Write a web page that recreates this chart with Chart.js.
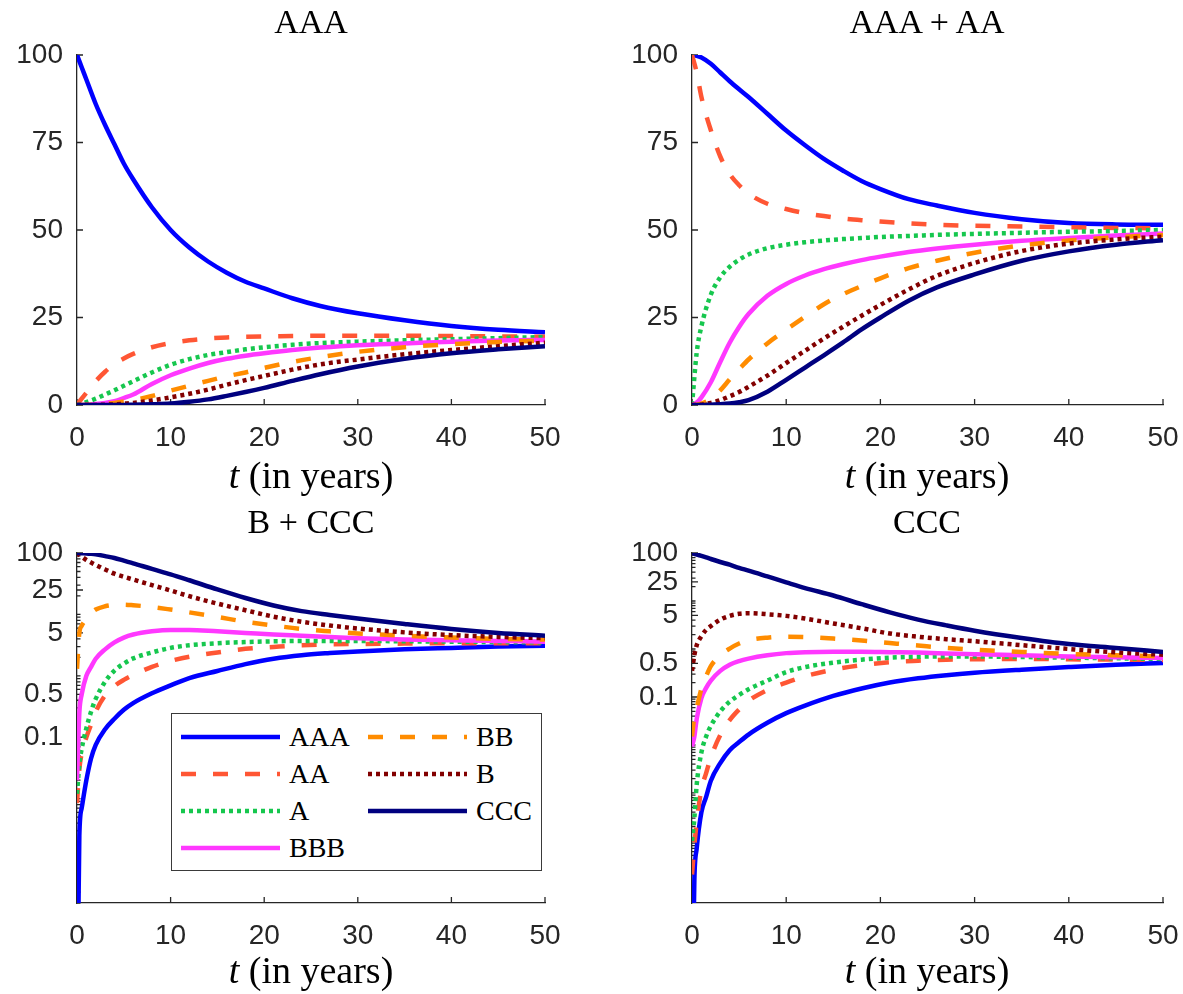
<!DOCTYPE html>
<html>
<head>
<meta charset="utf-8">
<script src="https://cdn.jsdelivr.net/npm/chart.js@4.4.1/dist/chart.umd.min.js"></script>
<style>
  html, body { margin: 0; padding: 0; background: #fff; }
  #fig { position: relative; width: 1183px; height: 994px; background: #fff; overflow: hidden; }
  #fig canvas { position: absolute; }
  .ttl, .xlab { position: absolute; width: 400px; text-align: center; font-family: "Liberation Serif", serif; color: #000; white-space: nowrap; }
  .ttl { font-size: 34px; line-height: 34px; }
  .xlab { font-size: 38px; line-height: 38px; }
  #legend { position: absolute; left: 171px; top: 713px; width: 369px; height: 156px; border: 1.5px solid #3a3a3a; background: #fff; }
  .item { position: absolute; height: 28px; display: flex; align-items: center; font-family: "Liberation Serif", serif; font-size: 28px; line-height: 28px; color: #000; }
  .item svg { margin-right: 9px; }
</style>
</head>
<body>
<div id="fig">
  <canvas id="c0" width="590" height="460" style="left:0;top:0"></canvas>
  <canvas id="c1" width="583" height="460" style="left:600px;top:0"></canvas>
  <canvas id="c2" width="590" height="460" style="left:0;top:500px"></canvas>
  <canvas id="c3" width="583" height="460" style="left:600px;top:500px"></canvas>
  <div id="legend"></div>
</div>
<script>
// sample times (years)
const tLin = [0, 0.5, 1, 2, 3, 4, 5, 6, 8, 10, 12, 14, 16, 18, 20, 23, 26, 30, 35, 40, 45, 50];
const tLog = [0, 0.25, 0.5, 1, 1.5, 2, 3, 4, 5, 6, 8, 10, 12, 15, 18, 21, 24, 27, 30, 35, 40, 45, 50];

const ratings = ['AAA', 'AA', 'A', 'BBB', 'BB', 'B', 'CCC'];
const panelTitles = ['AAA', 'AAA + AA', 'B + CCC', 'CCC'];
const xTicks = [0, 10, 20, 30, 40, 50];
const linTicks = [0, 25, 50, 75, 100];
const logTicks = [0.1, 0.5, 5, 25, 100];

// panel 1: start in AAA (rows follow ratings order)
const fromAAA = [
  [100, 96.5, 93, 86, 80, 74.5, 69, 64.5, 56.5, 50, 45, 41, 37.8, 35.2, 33.3, 30.5, 28.3, 26.2, 24.2, 22.6, 21.5, 20.8],
  [0, 1.8, 3.5, 6.8, 9.5, 11.7, 13.3, 14.6, 16.5, 17.7, 18.5, 19, 19.3, 19.5, 19.6, 19.7, 19.8, 19.8, 19.8, 19.7, 19.6, 19.5],
  [0, 0.4, 0.8, 1.8, 3, 4.2, 5.5, 6.8, 9.3, 11.5, 13.1, 14.3, 15.1, 15.9, 16.5, 17.2, 17.7, 18.1, 18.5, 18.8, 19.1, 19.4],
  [0, 0, 0.1, 0.3, 0.6, 1.1, 2, 3, 6, 8.5, 10.4, 12, 13.2, 14.1, 14.8, 15.7, 16.4, 17.1, 17.6, 18.1, 18.4, 18.6],
  [0, 0, 0, 0.1, 0.3, 0.6, 1, 1.4, 2.6, 4.1, 5.5, 6.9, 8.2, 9.3, 10.6, 12.3, 13.7, 15.2, 16.5, 17.4, 18, 18.4],
  [0, 0, 0, 0, 0.1, 0.2, 0.4, 0.6, 1.3, 2.2, 3.2, 4.4, 5.8, 7.1, 8.3, 10.1, 11.6, 13, 14.5, 15.7, 16.8, 17.8],
  [0, 0, 0, 0, 0, 0, 0, 0.1, 0.2, 0.4, 0.9, 1.6, 2.6, 3.7, 4.9, 6.9, 8.8, 11, 13.2, 14.8, 15.9, 16.8]
];

// panel 2: start in AAA + AA
const fromAAAandAA = [
  [100, 99.8, 99.3, 97.5, 95, 92.5, 90.2, 88, 83.2, 78.4, 74.2, 70.3, 67, 64, 61.7, 58.8, 57, 54.9, 53.1, 52, 51.6, 51.5],
  [100, 95, 88, 78.5, 71, 66, 62.8, 60.4, 57.5, 56, 54.8, 54, 53.3, 52.8, 52.4, 51.9, 51.5, 51.2, 51, 50.8, 50.6, 50.5],
  [0, 15, 22.5, 31.5, 36.5, 39.5, 41.5, 43, 44.8, 45.8, 46.5, 47, 47.4, 47.7, 48, 48.3, 48.6, 48.9, 49.2, 49.5, 49.7, 50],
  [0, 0.7, 2.2, 6.5, 12.3, 17.8, 22.3, 26, 31.2, 34.6, 37, 38.8, 40.2, 41.4, 42.4, 43.7, 44.7, 45.8, 46.9, 47.7, 48.4, 49],
  [0, 0.1, 0.4, 1.8, 4.2, 7.3, 10.2, 13, 17.6, 21.5, 25.2, 28.8, 31.6, 34, 36.2, 39.1, 41.2, 43.5, 45.6, 47, 47.9, 48.6],
  [0, 0, 0.1, 0.6, 1.4, 2.5, 3.7, 5.2, 8.4, 12, 15.5, 19, 22.3, 25.5, 28.6, 33, 36.9, 40.6, 44, 46.1, 47.3, 48.1],
  [0, 0, 0, 0.1, 0.2, 0.4, 0.8, 1.4, 3.8, 7.2, 10.7, 14.2, 17.8, 21.6, 25, 29.8, 33.6, 37.3, 41.2, 43.9, 45.8, 47.1]
];

// panel 3: start in B + CCC (log axis)
const fromBandCCC = [
  [1e-6, 0.0025, 0.007, 0.02, 0.045, 0.075, 0.135, 0.2, 0.28, 0.36, 0.52, 0.7, 0.92, 1.2, 1.55, 1.9, 2.17, 2.35, 2.5, 2.7, 2.85, 3.0, 3.1],
  [0.0085, 0.03, 0.055, 0.1, 0.16, 0.26, 0.48, 0.68, 0.86, 1.03, 1.4, 1.75, 2.05, 2.4, 2.75, 2.95, 3.14, 3.25, 3.3, 3.35, 3.4, 3.4, 3.4],
  [0.012, 0.036, 0.065, 0.14, 0.26, 0.42, 0.8, 1.22, 1.58, 1.92, 2.4, 2.85, 3.15, 3.4, 3.55, 3.65, 3.7, 3.7, 3.7, 3.65, 3.6, 3.55, 3.5],
  [0.02, 0.25, 0.5, 1.0, 1.4, 1.9, 2.7, 3.5, 4.2, 4.7, 5.3, 5.6, 5.6, 5.3, 5.0, 4.7, 4.5, 4.3, 4.1, 3.9, 3.8, 3.7, 3.6],
  [1.3, 5, 6.5, 8.4, 10.4, 12, 13.6, 14.3, 14.4, 14.1, 13.2, 12, 10.8, 9.1, 7.6, 6.6, 5.8, 5.3, 4.9, 4.5, 4.2, 4.0, 3.9],
  [100, 93, 87, 77, 70, 64, 54, 46, 41, 37, 30, 24.5, 19.8, 15, 11.7, 9.2, 7.6, 6.6, 5.9, 5.1, 4.6, 4.3, 4.1],
  [100, 99.8, 99.3, 98.5, 97, 95, 89, 83, 75, 68, 55, 45, 36, 25.5, 18.5, 14, 11.3, 9.8, 8.6, 7, 5.8, 5, 4.5]
];

// panel 4: start in CCC (log axis)
const fromCCC = [
  [1e-8, 1.5e-5, 7e-5, 4e-4, 8.3e-4, 0.0018, 0.0042, 0.0078, 0.0115, 0.0165, 0.029, 0.046, 0.066, 0.105, 0.15, 0.2, 0.245, 0.285, 0.32, 0.37, 0.42, 0.47, 0.51],
  [2e-5, 8e-5, 2.5e-4, 0.0012, 0.0026, 0.0055, 0.016, 0.033, 0.055, 0.083, 0.14, 0.2, 0.27, 0.37, 0.46, 0.53, 0.57, 0.6, 0.61, 0.62, 0.61, 0.6, 0.59],
  [1e-4, 3e-4, 0.0015, 0.007, 0.015, 0.025, 0.05, 0.08, 0.11, 0.145, 0.22, 0.33, 0.42, 0.52, 0.6, 0.66, 0.69, 0.7, 0.7, 0.68, 0.66, 0.64, 0.62],
  [0.0093, 0.015, 0.035, 0.095, 0.155, 0.22, 0.35, 0.47, 0.56, 0.63, 0.74, 0.82, 0.86, 0.88, 0.88, 0.86, 0.84, 0.81, 0.78, 0.74, 0.7, 0.67, 0.65],
  [0.015, 0.04, 0.06, 0.15, 0.27, 0.44, 0.74, 1.02, 1.3, 1.52, 1.72, 1.8, 1.78, 1.65, 1.5, 1.33, 1.18, 1.05, 0.97, 0.87, 0.79, 0.74, 0.7],
  [0.35, 0.75, 1.2, 1.85, 2.5, 3.0, 4.1, 4.9, 5.4, 5.55, 5.3, 4.9, 4.3, 3.4, 2.7, 2.1, 1.8, 1.6, 1.45, 1.2, 1.0, 0.85, 0.76],
  [100, 96.5, 93, 87, 81, 75, 65, 57, 49, 43, 32.5, 24.5, 18.6, 13, 8.6, 5.8, 4.1, 3.1, 2.4, 1.7, 1.27, 1.05, 0.87]
];

const lineColors = ['#0000ff', '#ff5634', '#16c74e', '#ff38ff', '#ff8c00', '#820000', '#00007f'];
const lineDashes = [[], [15, 17], [4, 4], [], [15, 17], [4, 4], []];
const axisColor = '#262626';
const tickFont = { family: 'Liberation Sans', size: 28 };

// MATLAB-style ticks pointing into the plot, plus log minor ticks
const inwardTicks = {
  id: 'inwardTicks',
  beforeDatasetsDraw(chart) {
    const { ctx, chartArea: a, scales: { x, y } } = chart;
    ctx.save();
    ctx.strokeStyle = axisColor;
    ctx.lineWidth = 1.3;
    ctx.beginPath();
    x.ticks.forEach(t => {
      const px = x.getPixelForValue(t.value);
      ctx.moveTo(px, a.bottom); ctx.lineTo(px, a.bottom - 6);
    });
    y.ticks.forEach(t => {
      const py = y.getPixelForValue(t.value);
      ctx.moveTo(a.left, py); ctx.lineTo(a.left + 6, py);
    });
    if (y.type === 'logarithmic') {
      for (let e = -7; e <= 2; e++) {
        for (let m = 1; m < 10; m++) {
          const v = m * Math.pow(10, e);
          if (v < y.min || v > y.max) continue;
          const py = y.getPixelForValue(v);
          ctx.moveTo(a.left, py); ctx.lineTo(a.left + 3.5, py);
        }
      }
    }
    ctx.stroke();
    ctx.restore();
  }
};

function makePanel(id, t, rows, isLog, yMin, pad, yWidth, xHeight) {
  const datasets = rows.map((vals, i) => ({
    label: ratings[i],
    data: t.map((x, j) => ({ x: x, y: vals[j] })),
    borderColor: lineColors[i],
    borderWidth: 4.5,
    borderDash: lineDashes[i],
    borderCapStyle: 'butt',
    pointRadius: 0,
    cubicInterpolationMode: 'monotone',
    fill: false,
    order: rows.length - i
  }));
  return new Chart(document.getElementById(id), {
    type: 'line',
    data: { datasets },
    plugins: [inwardTicks],
    options: {
      responsive: false,
      animation: false,
      devicePixelRatio: 1,
      layout: { padding: { top: pad.top, right: pad.right, left: 0, bottom: 0 } },
      plugins: { legend: { display: false }, tooltip: { enabled: false } },
      scales: {
        x: {
          type: 'linear', min: 0, max: 50, bounds: 'data',
          afterBuildTicks: s => { s.ticks = xTicks.map(v => ({ value: v })); },
          afterFit: s => { s.height = xHeight; s.paddingLeft = 0; s.paddingRight = 0; },
          grid: { display: false, drawTicks: false },
          border: { display: true, color: axisColor, width: 1.3 },
          ticks: { font: tickFont, color: axisColor, padding: 16, maxRotation: 0, autoSkip: false }
        },
        y: {
          type: isLog ? 'logarithmic' : 'linear', min: yMin, max: 100, bounds: 'data',
          afterBuildTicks: s => { s.ticks = (isLog ? logTicks : linTicks).map(v => ({ value: v })); },
          afterFit: s => { s.width = yWidth; s.paddingTop = 0; s.paddingBottom = 0; },
          grid: { display: false, drawTicks: false },
          border: { display: true, color: axisColor, width: 1.3 },
          ticks: { font: tickFont, color: axisColor, padding: 14, autoSkip: false, callback: v => String(v) }
        }
      }
    }
  });
}

makePanel('c0', tLin, fromAAA, false, 0, { top: 55, right: 45 }, 77, 55);
makePanel('c1', tLin, fromAAAandAA, false, 0, { top: 55, right: 20 }, 92, 55);
makePanel('c2', tLog, fromBandCCC, true, 2e-4, { top: 53, right: 45 }, 77, 57);
makePanel('c3', tLog, fromCCC, true, 5.1e-6, { top: 53, right: 20 }, 92, 57);

// titles and axis labels
const fig = document.getElementById('fig');
const centers = [311, 927, 311, 927];
const titleTops = [5, 5, 505, 505];
const xlabTops = [456, 456, 951, 951];
panelTitles.forEach((txt, i) => {
  const d = document.createElement('div');
  d.className = 'ttl';
  d.style.left = (centers[i] - 200) + 'px';
  d.style.top = titleTops[i] + 'px';
  d.textContent = txt;
  fig.appendChild(d);
  const xl = document.createElement('div');
  xl.className = 'xlab';
  xl.style.left = (centers[i] - 200) + 'px';
  xl.style.top = xlabTops[i] + 'px';
  xl.innerHTML = '<i>t</i> (in years)';
  fig.appendChild(xl);
});

// legend (two columns, inside panel 3)
const legend = document.getElementById('legend');
ratings.forEach((name, i) => {
  const col = i < 4 ? 0 : 1;
  const row = i < 4 ? i : i - 4;
  const it = document.createElement('div');
  it.className = 'item';
  it.style.left = (col === 0 ? 9 : 196) + 'px';
  it.style.top = (9 + row * 37) + 'px';
  const dash = lineDashes[i].length ? `stroke-dasharray="${lineDashes[i].join(' ')}"` : '';
  it.innerHTML = `<svg width="99" height="10"><line x1="0" y1="5" x2="99" y2="5" stroke="${lineColors[i]}" stroke-width="4.5" ${dash}/></svg><span>${name}</span>`;
  legend.appendChild(it);
});
</script>
</body>
</html>
